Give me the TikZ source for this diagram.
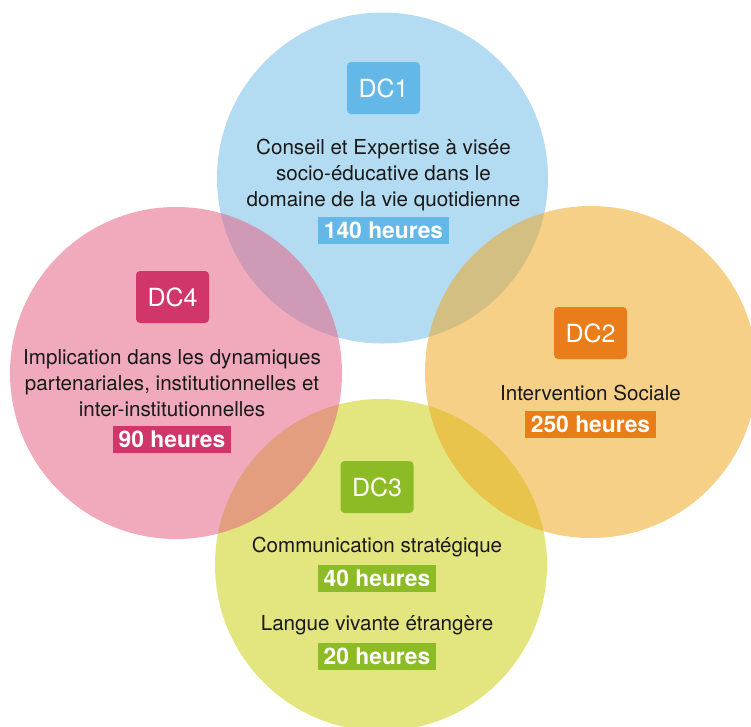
\documentclass[tikz,border=0pt]{standalone}
\usepackage{fontspec}
\setmainfont{TeX Gyre Heros}
\definecolor{cblue}{RGB}{117,191,231}
\definecolor{cpink}{RGB}{228,100,131}
\definecolor{corange}{RGB}{238,169,37}
\definecolor{cgreen}{RGB}{204,209,21}
\definecolor{bblue}{RGB}{99,184,232}
\definecolor{bpink}{RGB}{208,54,106}
\definecolor{borange}{RGB}{233,125,25}
\definecolor{bgreen}{RGB}{140,187,37}
\definecolor{textc}{RGB}{25,25,25}
\tikzset{
  disc/.style={fill=#1, fill opacity=0.55, draw=none},
  badge/.style={fill=#1, rounded corners=4pt, text=white, minimum width=73pt, minimum height=52pt, font=\fontsize{25}{25}\selectfont, inner sep=0pt},
  hours/.style={fill=#1, text=white, font=\bfseries\fontsize{22.8}{22.8}\selectfont, minimum height=27pt, inner xsep=5.5pt, inner ysep=0pt},
  body/.style={align=center, text=textc, font=\fontsize{20.6}{26}\selectfont, inner sep=0pt},
}
\begin{document}
\begin{tikzpicture}[x=1pt,y=-1pt]
\useasboundingbox (0,0) rectangle (751,726);
\clip (0,0) rectangle (751,726);
% circles
\fill[disc=cblue] (382.5,178) circle (165.5);
\fill[disc=cgreen] (381,565) circle (166);
\fill[disc=cpink] (176,373) circle (166);
\fill[disc=corange] (591,372) circle (166);
% DC1
\node[badge=bblue] (dc1) at (383.5,88) {DC1};
\node[body] (t1) at (383.5,175) {Conseil et Expertise à visée\\socio-éducative dans le\\domaine de la vie quotidienne};
\node[hours=bblue] (h1) at (383.5,230.5) {140 heures};
% DC4
\node[badge=bpink] (dc4) at (172.5,297) {DC4};
\node[body] (t4) at (172,383) {Implication dans les dynamiques\\partenariales, institutionnelles et\\inter-institutionnelles};
\node[hours=bpink] (h4) at (172,439.5) {90 heures};
% DC2
\node[badge=borange] (dc2) at (590.5,333) {DC2};
\node[body] (t2) at (590.5,393) {Intervention Sociale};
\node[hours=borange] (h2) at (590.5,424.5) {250 heures};
% DC3
\node[badge=bgreen] (dc3) at (377,487) {DC3};
\node[body] (t3a) at (377,547.5) {Communication stratégique};
\node[hours=bgreen] (h3a) at (377,578.5) {40 heures};
\node[body] (t3b) at (377,625.5) {Langue vivante étrangère};
\node[hours=bgreen] (h3b) at (377,656) {20 heures};
\end{tikzpicture}
\end{document}
